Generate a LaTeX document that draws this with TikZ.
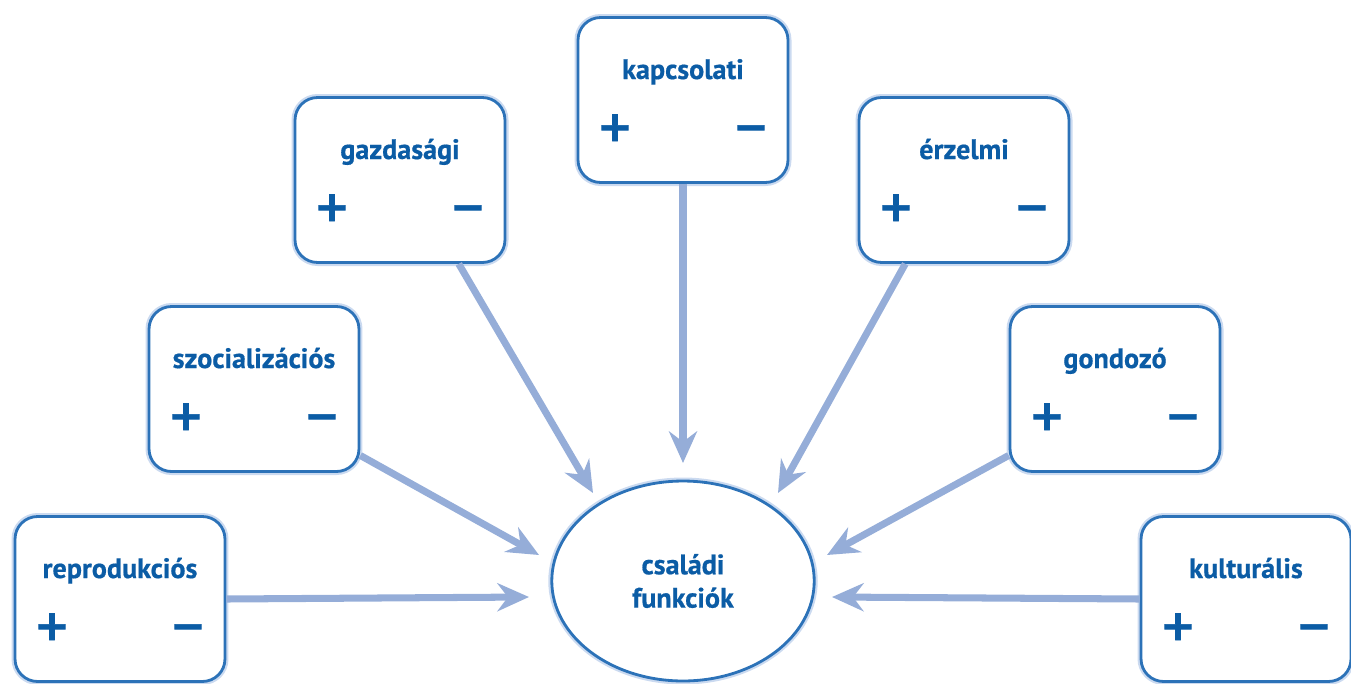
\documentclass[tikz,border=0pt]{standalone}
\usepackage{fontspec}
\setmainfont{PT Sans}[BoldFeatures={FakeBold=0.6}]
\newfontfamily\signfont{DejaVu Sans Bold}[FakeBold=1.6]
\usetikzlibrary{shapes.geometric, arrows.meta, calc}

\definecolor{famblue}{HTML}{2C72B8}
\definecolor{famtext}{HTML}{0B5CA5}
\definecolor{famarrow}{HTML}{95ADD8}
\definecolor{famglow}{HTML}{A9C2E6}

\tikzset{
  famb/.style={draw=famblue, line width=1.6pt, fill=white, rounded corners=0.45cm,
    minimum width=4.2cm, minimum height=3.3cm,
    preaction={draw=famglow, line width=4pt, opacity=0.6}},
  famt/.style={text=famtext, font=\bfseries\fontsize{16}{19}\selectfont, anchor=base},
  fams/.style={text=famtext, font=\signfont\fontsize{24}{24}\selectfont, inner sep=0pt, anchor=base},
  famarr/.style={draw=famarrow, line width=4pt, -{Stealth[length=18pt, width=16pt, inset=6pt]}}
}

\begin{document}
\begin{tikzpicture}[x=0.02cm, y=-0.02cm]
    \useasboundingbox (0,0) rectangle (1351,683);
    % center
    \node[ellipse, draw=famblue, line width=1.6pt, fill=white, minimum width=5.25cm, minimum height=4cm,
      preaction={draw=famglow, line width=4pt, opacity=0.6}, text=famtext,
      font=\bfseries\fontsize{16}{19}\selectfont, align=center] (fun) at (683,581) {családi\\funkciók};
    % boxes
    \node[famb] (repro) at (120,599) {};
    \node[famt] at ($(repro)+(0,-21)$) {reprodukciós};
    \node[fams] at ($(repro)+(-68,41)$) {+};
    \node[fams] at ($(repro)+(68,41)$) {−};
    \node[famb] (szoc) at (254,389) {};
    \node[famt] at ($(szoc)+(0,-21)$) {szocializációs};
    \node[fams] at ($(szoc)+(-68,41)$) {+};
    \node[fams] at ($(szoc)+(68,41)$) {−};
    \node[famb] (gazd) at (400,180) {};
    \node[famt] at ($(gazd)+(0,-21)$) {gazdasági};
    \node[fams] at ($(gazd)+(-68,41)$) {+};
    \node[fams] at ($(gazd)+(68,41)$) {−};
    \node[famb] (kap) at (683,100) {};
    \node[famt] at ($(kap)+(0,-21)$) {kapcsolati};
    \node[fams] at ($(kap)+(-68,41)$) {+};
    \node[fams] at ($(kap)+(68,41)$) {−};
    \node[famb] (erz) at (964,180) {};
    \node[famt] at ($(erz)+(0,-21)$) {érzelmi};
    \node[fams] at ($(erz)+(-68,41)$) {+};
    \node[fams] at ($(erz)+(68,41)$) {−};
    \node[famb] (gond) at (1115,389) {};
    \node[famt] at ($(gond)+(0,-21)$) {gondozó};
    \node[fams] at ($(gond)+(-68,41)$) {+};
    \node[fams] at ($(gond)+(68,41)$) {−};
    \node[famb] (kult) at (1246,599) {};
    \node[famt] at ($(kult)+(0,-21)$) {kulturális};
    \node[fams] at ($(kult)+(-68,41)$) {+};
    \node[fams] at ($(kult)+(68,41)$) {−};
    % arrow tips
    \coordinate (tRepro) at (529,597);
    \coordinate (tSzoc) at (539,555);
    \coordinate (tGazd) at (593,493);
    \coordinate (tKap) at (683,463);
    \coordinate (tErz) at (778,493);
    \coordinate (tGond) at (827,555);
    \coordinate (tKult) at (832,597);
    \draw[famarr] (repro.east) -- (tRepro);
    \draw[famarr] (szoc.-32) -- (tSzoc);
    \draw[famarr] (gazd.-55) -- (tGazd);
    \draw[famarr] (kap.south) -- (tKap);
    \draw[famarr] (erz.-125) -- (tErz);
    \draw[famarr] (gond.-148) -- (tGond);
    \draw[famarr] (kult.west) -- (tKult);
\end{tikzpicture}
\end{document}
